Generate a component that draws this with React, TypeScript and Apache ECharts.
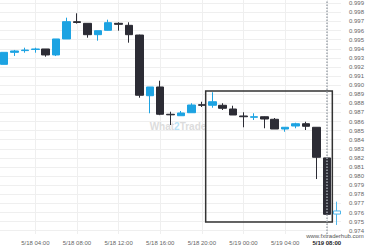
import React, { useEffect, useRef } from 'react';
import * as echarts from 'echarts';

// hourly candles, 5/18 01:00 .. 5/19 09:00
const times = [
  '5/18 01:00', '5/18 02:00', '5/18 03:00', '5/18 04:00', '5/18 05:00', '5/18 06:00',
  '5/18 07:00', '5/18 08:00', '5/18 09:00', '5/18 10:00', '5/18 11:00', '5/18 12:00',
  '5/18 13:00', '5/18 14:00', '5/18 15:00', '5/18 16:00', '5/18 17:00', '5/18 18:00',
  '5/18 19:00', '5/18 20:00', '5/18 21:00', '5/18 22:00', '5/18 23:00', '5/19 00:00',
  '5/19 01:00', '5/19 02:00', '5/19 03:00', '5/19 04:00', '5/19 05:00', '5/19 06:00',
  '5/19 07:00', '5/19 08:00', '5/19 09:00',
];
const opens = [
  0.99229, 0.99361, 0.99380, 0.99392, 0.99398, 0.99332,
  0.99508, 0.99698, 0.99680, 0.99555, 0.99603, 0.99680,
  0.99658, 0.99551, 0.98884, 0.98980, 0.98680, 0.98664,
  0.98697, 0.98785, 0.98779, 0.98779, 0.98738, 0.98661,
  0.98647, 0.98653, 0.98625, 0.98518, 0.98551, 0.98576,
  0.98537, 0.98200, 0.97583,
];
const closes = [
  0.99361, 0.99376, 0.99386, 0.99398, 0.99332, 0.99508,
  0.99698, 0.99689, 0.99555, 0.99599, 0.99687, 0.99669,
  0.99555, 0.98889, 0.98980, 0.98680, 0.98674, 0.98694,
  0.98782, 0.98779, 0.98818, 0.98746, 0.98672, 0.98653,
  0.98653, 0.98628, 0.98518, 0.98537, 0.98576, 0.98548,
  0.98207, 0.97580, 0.97617,
];
const lows = [
  0.99229, 0.99321, 0.99357, 0.99357, 0.99313, 0.99320,
  0.99508, 0.99677, 0.99522, 0.99489, 0.99600, 0.99599,
  0.99467, 0.98862, 0.98691, 0.98670, 0.98562, 0.98664,
  0.98697, 0.98760, 0.98752, 0.98727, 0.98672, 0.98537,
  0.98617, 0.98526, 0.98518, 0.98488, 0.98526, 0.98507,
  0.97968, 0.97580, 0.97463,
];
const highs = [
  0.99361, 0.99387, 0.99412, 0.99412, 0.99398, 0.99508,
  0.99742, 0.99790, 0.99680, 0.99599, 0.99720, 0.99691,
  0.99691, 0.99555, 0.98980, 0.99049, 0.98708, 0.98716,
  0.98801, 0.98818, 0.98922, 0.98801, 0.98774, 0.98702,
  0.98691, 0.98656, 0.98639, 0.98537, 0.98587, 0.98598,
  0.98537, 0.98200, 0.97719,
];

// visible window
const xRange = ['5/18 00:36.5', '5/19 09:22'];
const priceRange = [0.973637, 0.999363];

// pattern zone (rectangle) and current-time marker
const zoneTimes = ['5/18 20:22', '5/19 08:32'];
const zonePrices = [0.98936, 0.97496];
const currentTime = '5/19 08:00';

const toHour = (t: string) => {
  const [d, hm] = t.split(' ');
  const day = Number(d.split('/')[1]);
  const [h, m] = hm.split(':').map(Number);
  return (day - 18) * 24 + h + m / 60;
};
const fmtHour = (v: number) => {
  const day = 18 + Math.floor(v / 24 + 1e-6);
  const h = Math.round(v - (day - 18) * 24);
  return `5/${day} ${String(h).padStart(2, '0')}:00`;
};

const FONT = 'Liberation Sans, Arial, sans-serif';
const BLUE = '#1da3e2';
const DARK = '#2c2c35';
const GRID = '#efefef';

export default function App() {
  const ref = useRef<HTMLDivElement>(null);
  useEffect(() => {
    if (!ref.current) return;
    const chart = echarts.init(ref.current, undefined, { renderer: 'svg' });
    const last = times.length - 1;
    const data = times.map((t, i) => {
      const item: any = { value: [toHour(t), opens[i], closes[i], lows[i], highs[i]] };
      if (i === last) {
        item.itemStyle = { color: '#ffffff', borderColor: '#4fb6ea', color0: '#ffffff', borderColor0: '#4fb6ea' };
      }
      return item;
    });
    const curH = toHour(currentTime);
    chart.setOption({
      animation: false,
      backgroundColor: '#ffffff',
      grid: { left: 0, right: 39, top: 0, bottom: 16 },
      xAxis: {
        type: 'value',
        min: toHour(xRange[0]),
        max: toHour(xRange[1]),
        splitNumber: 10,
        minInterval: 4,
        maxInterval: 4,
        axisLine: { show: false },
        axisTick: { show: false },
        splitLine: { show: true, showMinLine: false, showMaxLine: false, lineStyle: { color: GRID, width: 1 } },
        axisLabel: {
          margin: 6,
          fontSize: 6,
          color: '#666',
          fontFamily: FONT,
          showMinLabel: false,
          showMaxLabel: false,
          formatter: (v: number) => {
            if (Math.abs(v - Math.round(v / 4) * 4) > 0.01) return '';
            const s = fmtHour(v);
            return Math.abs(v - curH) < 0.01 ? `{hl|${s}}` : s;
          },
          rich: {
            hl: { fontSize: 6, color: '#222', fontWeight: 'bold', fontFamily: FONT },
          },
        },
      },
      yAxis: {
        type: 'value',
        position: 'right',
        min: priceRange[0],
        max: priceRange[1],
        splitNumber: 20,
        minInterval: 0.001,
        maxInterval: 0.001,
        axisLine: { show: false },
        axisTick: { show: false },
        splitLine: { show: true, showMinLine: false, showMaxLine: false, lineStyle: { color: GRID, width: 1 } },
        axisLabel: {
          margin: 8,
          fontSize: 6,
          color: '#666',
          fontFamily: FONT,
          showMinLabel: false,
          showMaxLabel: false,
          formatter: (v: number) =>
            Math.abs(v * 1000 - Math.round(v * 1000)) > 0.01 ? '' : v.toFixed(3),
        },
      },
      series: [
        {
          type: 'candlestick',
          barWidth: 8,
          encode: { x: 0, y: [1, 2, 3, 4] },
          data,
          itemStyle: {
            color: BLUE,
            color0: DARK,
            borderColor: BLUE,
            borderColor0: DARK,
            borderWidth: 1,
          },
          markArea: {
            silent: true,
            data: [
              [
                { xAxis: toHour(zoneTimes[0]), yAxis: zonePrices[0] },
                { xAxis: toHour(zoneTimes[1]), yAxis: zonePrices[1] },
              ],
            ],
            itemStyle: { color: 'rgba(0,0,0,0)', borderColor: '#333', borderWidth: 1.5 },
            label: { show: false },
          },
          markLine: {
            silent: true,
            symbol: ['none', 'none'],
            label: { show: false },
            data: [{ xAxis: curH }],
            lineStyle: { type: 'dotted', color: '#a0a6ad', width: 1.5 },
          },
        },
      ],
      graphic: [
        {
          type: 'text',
          x: 178,
          y: 126,
          z: 1,
          silent: true,
          style: {
            text: '{a|What}{b|2}{a|Trade}',
            align: 'center',
            verticalAlign: 'middle',
            rich: {
              a: { fontSize: 10, fontWeight: 'bold', fill: '#dcdcdc', color: '#dcdcdc', fontFamily: FONT },
              b: { fontSize: 10, fontWeight: 'bold', fill: '#b8e2f6', color: '#b8e2f6', fontFamily: FONT },
            },
          },
        },
        {
          type: 'text',
          x: 335,
          y: 236,
          z: 10,
          silent: true,
          style: {
            text: 'www.fxtraderhub.com',
            align: 'center',
            verticalAlign: 'middle',
            fontSize: 6,
            fontFamily: FONT,
            fill: '#555',
          },
        },
      ],
    });
    return () => chart.dispose();
  }, []);
  return (
    <div
      ref={ref}
      style={{ position: 'absolute', left: 0, top: 0, width: 380, height: 250 }}
    />
  );
}
